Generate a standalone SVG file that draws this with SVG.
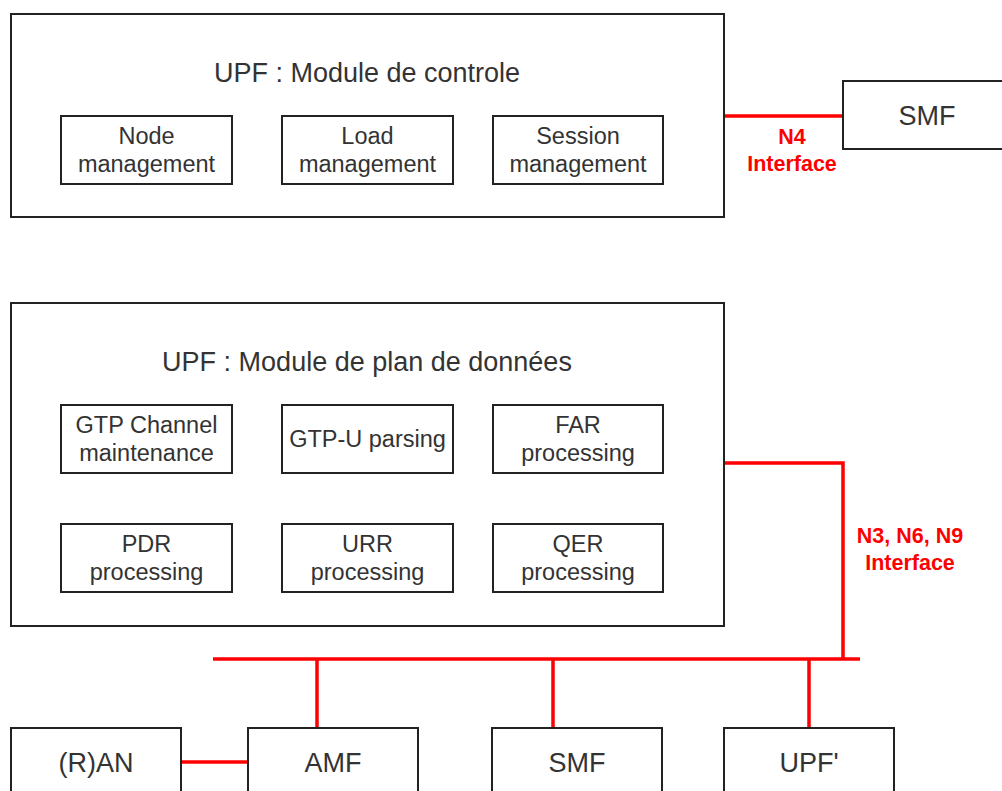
<svg xmlns="http://www.w3.org/2000/svg" width="1002" height="791" viewBox="0 0 1002 791">
  <style>
    .box { fill: #ffffff; stroke: #222222; stroke-width: 2; }
    .title { font-family: "Liberation Sans", Arial, sans-serif; font-size: 27px; fill: #333333; text-anchor: middle; }
    .lbl { font-family: "Liberation Sans", Arial, sans-serif; font-size: 23.5px; fill: #333333; text-anchor: middle; }
    .nf { font-family: "Liberation Sans", Arial, sans-serif; font-size: 27px; fill: #333333; text-anchor: middle; }
    .link { fill: none; stroke: #ff0000; stroke-width: 3.5; }
    .iface { font-family: "Liberation Sans", Arial, sans-serif; font-size: 21.5px; font-weight: bold; fill: #ff0000; text-anchor: middle; }
  </style>
  <rect width="1002" height="791" fill="#ffffff"/>

  <!-- connectors -->
  <g id="connectors">
    <path class="link" d="M724 116 H843"/>
    <path class="link" d="M724 463 H843 V659"/>
    <path class="link" d="M213 659 H860"/>
    <path class="link" d="M317 659 V728"/>
    <path class="link" d="M553 659 V728"/>
    <path class="link" d="M809 659 V728"/>
    <path class="link" d="M181 762 H248"/>
    <text class="iface" x="792" y="144">N4</text>
    <text class="iface" x="792" y="171">Interface</text>
    <text class="iface" x="910" y="543">N3, N6, N9</text>
    <text class="iface" x="910" y="570">Interface</text>
  </g>

  <!-- control module -->
  <g id="control-module">
    <rect class="box" x="11" y="14" width="713" height="203"/>
    <text class="title" x="367" y="82">UPF : Module de controle</text>
  </g>
  <g id="node-management">
    <rect class="box" x="61" y="116" width="171" height="68"/>
    <text class="lbl" x="146.5" y="144">Node</text>
    <text class="lbl" x="146.5" y="172">management</text>
  </g>
  <g id="load-management">
    <rect class="box" x="282" y="116" width="171" height="68"/>
    <text class="lbl" x="367.5" y="144">Load</text>
    <text class="lbl" x="367.5" y="172">management</text>
  </g>
  <g id="session-management">
    <rect class="box" x="493" y="116" width="170" height="68"/>
    <text class="lbl" x="578" y="144">Session</text>
    <text class="lbl" x="578" y="172">management</text>
  </g>
  <g id="smf-top">
    <rect class="box" x="843" y="81" width="170" height="68"/>
    <text class="nf" x="927" y="125">SMF</text>
  </g>

  <!-- data plane module -->
  <g id="data-plane-module">
    <rect class="box" x="11" y="303" width="713" height="323"/>
    <text class="title" x="367" y="371">UPF : Module de plan de données</text>
  </g>
  <g id="gtp-channel">
    <rect class="box" x="61" y="405" width="171" height="68"/>
    <text class="lbl" x="146.5" y="433">GTP Channel</text>
    <text class="lbl" x="146.5" y="461">maintenance</text>
  </g>
  <g id="gtpu-parsing">
    <rect class="box" x="282" y="405" width="171" height="68"/>
    <text class="lbl" x="367.5" y="447">GTP-U parsing</text>
  </g>
  <g id="far">
    <rect class="box" x="493" y="405" width="170" height="68"/>
    <text class="lbl" x="578" y="433">FAR</text>
    <text class="lbl" x="578" y="461">processing</text>
  </g>
  <g id="pdr">
    <rect class="box" x="61" y="524" width="171" height="68"/>
    <text class="lbl" x="146.5" y="552">PDR</text>
    <text class="lbl" x="146.5" y="580">processing</text>
  </g>
  <g id="urr">
    <rect class="box" x="282" y="524" width="171" height="68"/>
    <text class="lbl" x="367.5" y="552">URR</text>
    <text class="lbl" x="367.5" y="580">processing</text>
  </g>
  <g id="qer">
    <rect class="box" x="493" y="524" width="170" height="68"/>
    <text class="lbl" x="578" y="552">QER</text>
    <text class="lbl" x="578" y="580">processing</text>
  </g>

  <!-- network functions -->
  <g id="ran">
    <rect class="box" x="11" y="728" width="170" height="68"/>
    <text class="nf" x="96" y="772">(R)AN</text>
  </g>
  <g id="amf">
    <rect class="box" x="248" y="728" width="170" height="68"/>
    <text class="nf" x="333" y="772">AMF</text>
  </g>
  <g id="smf-bottom">
    <rect class="box" x="492" y="728" width="170" height="68"/>
    <text class="nf" x="577" y="772">SMF</text>
  </g>
  <g id="upf-prime">
    <rect class="box" x="724" y="728" width="170" height="68"/>
    <text class="nf" x="809" y="772">UPF'</text>
  </g>
</svg>
